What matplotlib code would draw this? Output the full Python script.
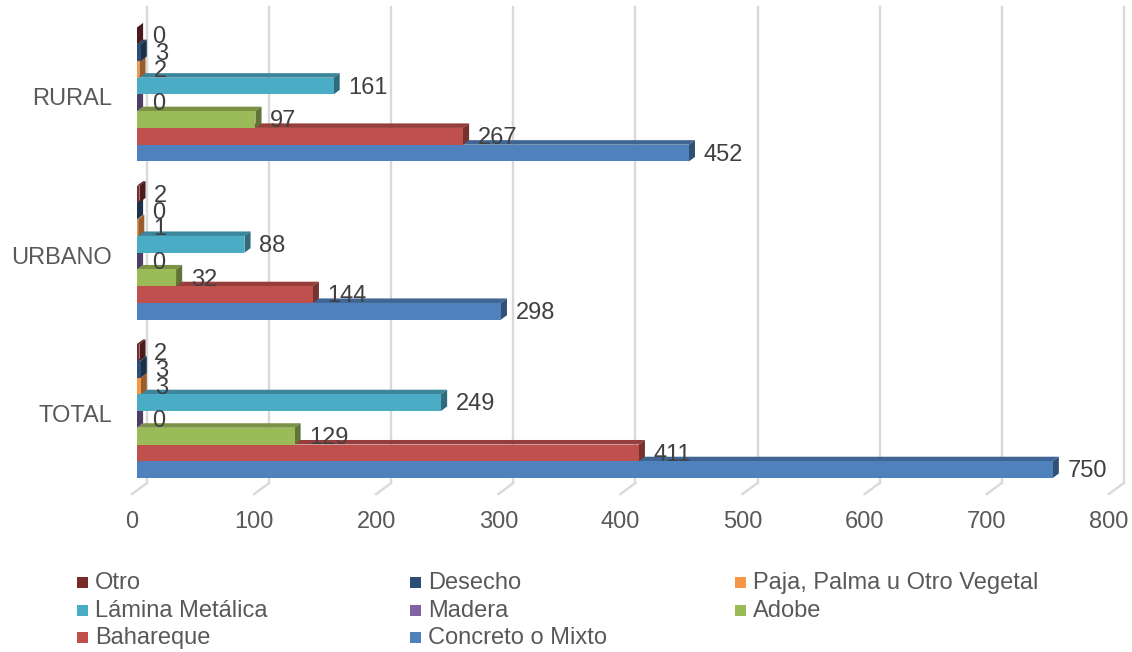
import matplotlib.pyplot as plt
import numpy as np
from matplotlib.patches import Polygon, Rectangle

plt.rcParams["font.family"] = ["Liberation Sans", "DejaVu Sans"]

categories = ["TOTAL", "URBANO", "RURAL"]
# series listed bottom -> top inside each group
series = ["Concreto o Mixto", "Bahareque", "Adobe", "Madera",
          "Lámina Metálica", "Paja, Palma u Otro Vegetal", "Desecho", "Otro"]
values = {
    "Concreto o Mixto": [750, 298, 452],
    "Bahareque": [411, 144, 267],
    "Adobe": [129, 32, 97],
    "Madera": [0, 0, 0],
    "Lámina Metálica": [249, 88, 161],
    "Paja, Palma u Otro Vegetal": [3, 1, 2],
    "Desecho": [3, 0, 3],
    "Otro": [2, 2, 0],
}
colors = {
    "Concreto o Mixto": "#4F81BD",
    "Bahareque": "#C0504D",
    "Adobe": "#9BBB59",
    "Madera": "#8064A2",
    "Lámina Metálica": "#4BACC6",
    "Paja, Palma u Otro Vegetal": "#F79646",
    "Desecho": "#2C4D75",
    "Otro": "#772C2A",
}
legend_order = ["Otro", "Desecho", "Paja, Palma u Otro Vegetal",
                "Lámina Metálica", "Madera", "Adobe",
                "Bahareque", "Concreto o Mixto"]
xticks = [0, 100, 200, 300, 400, 500, 600, 700, 800]


def shade(hex_color, f):
    rgb = np.array([int(hex_color[i:i + 2], 16) for i in (1, 3, 5)]) / 255
    return tuple(rgb * f)


W, H = 1132, 652
fig = plt.figure(figsize=(W / 100, H / 100), dpi=100)
px_unit = 1.221          # pixels per value unit
slot_px = 16.75          # pixels per bar slot
x0_px, y0_px = 137, 478  # bar origin of the bottom bar
ymax = 28
ax = fig.add_axes([x0_px / W, (H - y0_px) / H, 800 * px_unit / W, ymax * slot_px / H])
ax.set_xlim(0, 800)
ax.set_ylim(0, ymax)
ax.axis("off")

group_step = 9.45
dx, dy = 5.0, 0.27           # bar depth
gdx, gdy = 8.2, -0.3         # back wall offset for gridlines
fdx, fdy = -4.1, -0.96       # front floor offset
grid_top = (y0_px - 7) / slot_px

# gridlines: back wall + floor diagonal
for v in xticks:
    ax.plot([v + gdx, v + gdx], [gdy, grid_top], color="#d9d9d9", lw=1.7,
            clip_on=False, zorder=0)
    ax.plot([v + gdx, v + fdx], [gdy, fdy], color="#d9d9d9", lw=1.7,
            clip_on=False, zorder=0)
    ax.text(v + fdx, -2.65, str(v), ha="center", va="center", fontsize=17,
            color="#595959")

# bars with a simple 3D look (top + side faces)
for g, cat in enumerate(categories):
    base = g * group_step
    for s, name in enumerate(series):
        v = values[name][g]
        y = base + s
        c = colors[name]
        z = 2 + g * 10 + s
        top = Polygon([(0, y + 1), (dx, y + 1 + dy), (v + dx, y + 1 + dy), (v, y + 1)],
                      closed=True, facecolor=shade(c, 0.78), edgecolor="none", zorder=z)
        side = Polygon([(v, y), (v + dx, y + dy), (v + dx, y + 1 + dy), (v, y + 1)],
                       closed=True, facecolor=shade(c, 0.62), edgecolor="none", zorder=z)
        ax.add_patch(top)
        ax.add_patch(side)
        ax.barh(y + 0.5, v, height=1, left=0, color=c, zorder=z + 0.5)
        ax.text(v + 12, y + 0.4, str(v), ha="left", va="center", fontsize=17,
                color="#404040", zorder=100)
    ax.text(-20.5, base + 4 - 0.3, cat, ha="right", va="center", fontsize=17,
            color="#595959")

# legend, drawn row by row
col_x = [77, 410, 735]
row_y = [583, 611, 638]
for i, name in enumerate(legend_order):
    r, c = divmod(i, 3)
    fig.patches.append(Rectangle((col_x[c] / W, (H - row_y[r] - 5) / H), 11 / W, 11 / H,
                                 transform=fig.transFigure, facecolor=colors[name],
                                 edgecolor="none"))
    fig.text((col_x[c] + 18) / W, (H - row_y[r]) / H, name, ha="left", va="center",
             fontsize=17, color="#595959")

fig.savefig("out.png", dpi=100)
